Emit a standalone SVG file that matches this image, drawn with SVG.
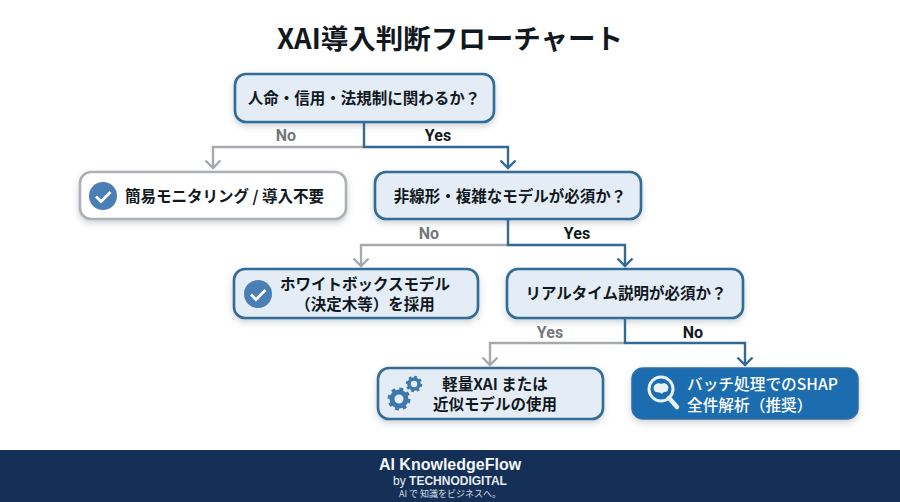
<svg xmlns="http://www.w3.org/2000/svg" width="900" height="502" viewBox="0 0 900 502">
<style>
text{font-family:"Noto Sans CJK JP","Noto Sans",sans-serif;font-weight:700;text-anchor:middle;fill:#111820}
.n{font-size:15.500px;font-weight:600}
.box{fill:#e4edf5;stroke:#336c98;stroke-width:2.6}
.w{fill:#fff;stroke:#adb1b5;stroke-width:2.6}
.lab{font-size:16px;font-family:Roboto,"Noto Sans",sans-serif}
.g{fill:#73777c}
.cg{fill:none;stroke:#a6aaae;stroke-width:2.4}
.cb{fill:none;stroke:#336a94;stroke-width:2.4}
.t{fill:#fff;font-weight:500;text-anchor:start;font-size:15.700px}
</style>
<defs>
<filter id="s" x="-10%" y="-20%" width="120%" height="150%"><feDropShadow dx="0" dy="3" stdDeviation="3" flood-color="#5a6b7a" flood-opacity=".3"/></filter>
<g id="check"><circle r="14" fill="#4a7fb5"/><path d="M-7 0.5L-2 5.5L7.5-4" fill="none" stroke="#fff" stroke-width="2.8"/></g>
<g id="gear"><circle r="7" fill="none" stroke="#3f78ad" stroke-width="5"/><circle r="9.5" fill="none" stroke="#3f78ad" stroke-width="4" stroke-dasharray="3.7 3.76"/></g>
</defs>
<rect width="900" height="502" fill="#fff"/>
<text x="450" y="49" font-size="27.500" fill="#111">XAI導入判断フローチャート</text>
<g id="connectors">
<path class="cg" d="M364 147H213V168M205.500 160.500L213 168L220.500 160.500"/>
<path class="cb" d="M364 122V147H508V168M500.500 160.500L508 168L515.500 160.500"/>
<path class="cg" d="M508 245H361V266M353.500 258.500L361 266L368.500 258.500"/>
<path class="cb" d="M508 219V245H625V266M617.500 258.500L625 266L632.500 258.500"/>
<path class="cg" d="M625 343H490V365M482.500 357.500L490 365L497.500 357.500"/>
<path class="cb" d="M625 318V343H745V365M737.500 357.500L745 365L752.500 357.500"/>
<text class="lab g" x="286" y="141">No</text>
<text class="lab" x="438" y="141">Yes</text>
<text class="lab g" x="429" y="239">No</text>
<text class="lab" x="577" y="239">Yes</text>
<text class="lab g" x="550" y="338">Yes</text>
<text class="lab" x="693" y="338">No</text>
</g>
<g id="n1"><rect class="box" filter="url(#s)" x="235" y="74" width="259" height="48" rx="11"/><text class="n" x="364" y="104">人命・信用・法規制に関わるか？</text></g>
<g id="n2"><rect class="w" filter="url(#s)" x="80" y="172" width="266" height="47" rx="11"/><use href="#check" x="103" y="196"/><text class="n" x="224.500" y="202">簡易モニタリング / 導入不要</text></g>
<g id="n3"><rect class="box" filter="url(#s)" x="375" y="172" width="266" height="47" rx="11"/><text class="n" x="510" y="202">非線形・複雑なモデルが必須か？</text></g>
<g id="n4"><rect class="box" filter="url(#s)" x="234" y="269" width="244" height="49" rx="11"/><use href="#check" x="258" y="294"/><text class="n" x="365" y="290">ホワイトボックスモデル</text><text class="n" x="365" y="310">（決定木等）を採用</text></g>
<g id="n5"><rect class="box" filter="url(#s)" x="507" y="269" width="236" height="49" rx="11"/><text class="n" x="626" y="299">リアルタイム説明が必須か？</text></g>
<g id="n6"><rect class="box" filter="url(#s)" x="378" y="368" width="225" height="51" rx="11"/><use href="#gear" transform="translate(399 399)"/><use href="#gear" transform="translate(414 384) scale(.72)"/><text class="n" x="495" y="390">軽量XAI または</text><text class="n" x="495" y="410">近似モデルの使用</text></g>
<g id="n7"><rect filter="url(#s)" x="632" y="368" width="226" height="51" rx="11" fill="#1f6cb0" stroke="#2f6da3" stroke-width="1.500"/>
<circle cx="661" cy="389" r="12" fill="none" stroke="#e9f1f8" stroke-width="3"/><path d="M669 398L677 407" stroke="#e9f1f8" stroke-width="4.500" stroke-linecap="round"/><path d="M654 390c-2-6 5-8 7-6c3-2 9 0 7 6c-1 3-5 1-6 4c-2-3-6 0-8-4z" fill="#e9f1f8"/>
<text class="n t" x="687" y="390">バッチ処理でのSHAP</text><text class="n t" x="687" y="411">全件解析（推奨）</text></g>
<g id="footer"><rect y="450" width="900" height="52" fill="#153056"/>
<text x="450" y="470" font-size="16" style="fill:#f3f6f9;font-family:'Liberation Sans',sans-serif">AI KnowledgeFlow</text>
<text x="450" y="485" font-size="12" style="fill:#e6ebf0;font-family:'Liberation Sans',sans-serif;font-weight:400">by <tspan font-weight="700">TECHNODIGITAL</tspan></text>
<text x="450" y="497" font-size="9" style="fill:#d5dde5;font-weight:400">AI で 知識をビジネスへ。</text></g>
</svg>
